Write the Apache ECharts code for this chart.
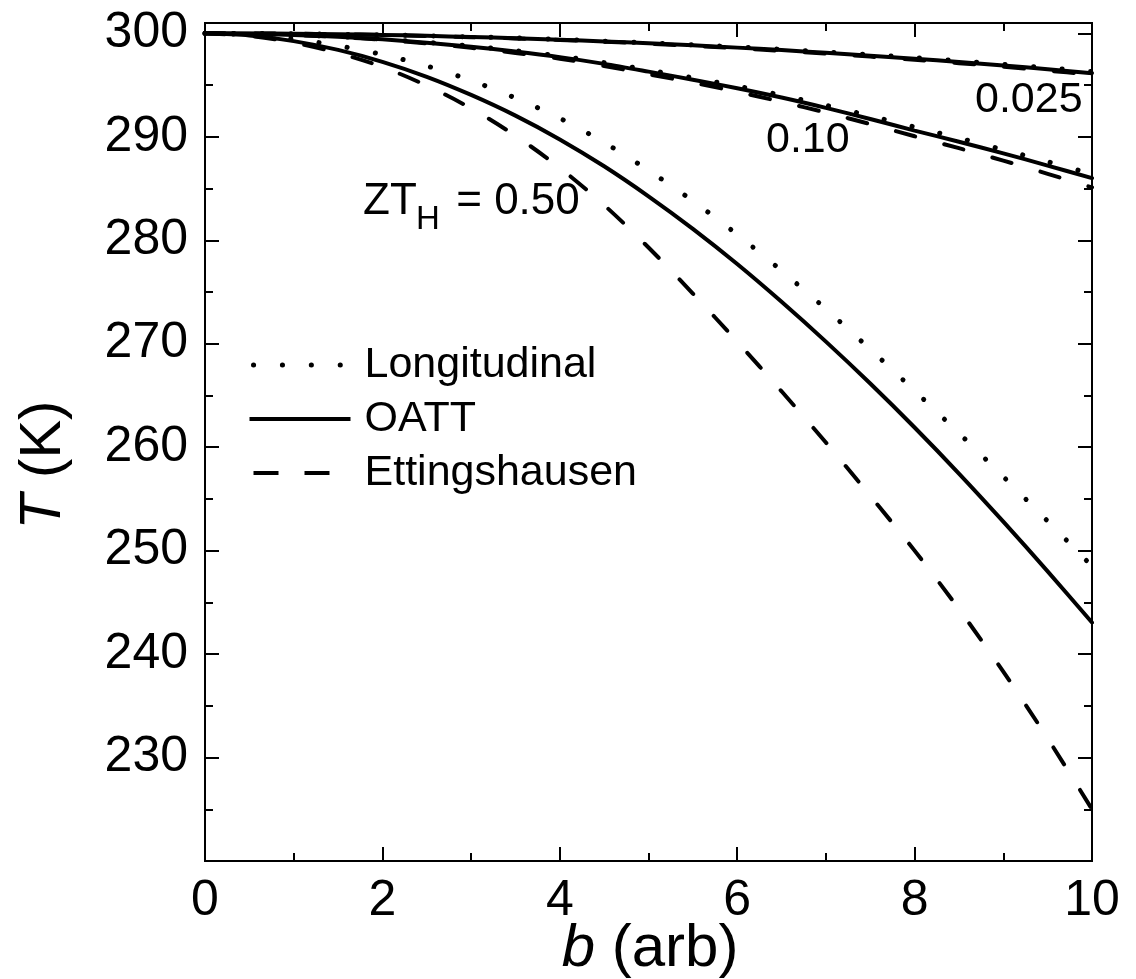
<!DOCTYPE html>
<html>
<head>
<meta charset="utf-8">
<script src="https://cdn.jsdelivr.net/npm/echarts@6/dist/echarts.min.js"></script>
<style>
  html, body { margin: 0; padding: 0; background: #fff; }
  #chart { width: 1136px; height: 979px; }
</style>
</head>
<body>
<div id="chart"></div>
<script>
// Parameter b (arb) at which the temperature profiles are sampled
const B = [0, 0.5, 1, 1.5, 2, 2.5, 3, 3.5, 4, 4.5, 5, 5.5, 6, 6.5, 7, 7.5, 8, 8.5, 9, 9.5, 10];

// ZT_H = 0.025
const LONG_025 = [300, 299.99, 299.96, 299.91, 299.86, 299.77, 299.66, 299.55, 299.41, 299.25, 299.08, 298.89, 298.68, 298.45, 298.20, 297.93, 297.65, 297.34, 297.01, 296.67, 296.30];
const OATT_025 = [300, 299.99, 299.96, 299.91, 299.85, 299.76, 299.65, 299.53, 299.39, 299.22, 299.04, 298.84, 298.62, 298.38, 298.12, 297.84, 297.55, 297.23, 296.89, 296.53, 296.15];
const ETT_025  = [300, 299.99, 299.96, 299.91, 299.84, 299.75, 299.63, 299.51, 299.36, 299.19, 299.00, 298.79, 298.56, 298.31, 298.04, 297.75, 297.45, 297.12, 296.77, 296.40, 296.00];

// ZT_H = 0.10
const LONG_010 = [300, 299.97, 299.86, 299.69, 299.45, 299.13, 298.77, 298.32, 297.80, 297.17, 296.45, 295.70, 294.90, 294.02, 293.05, 292.02, 290.95, 289.88, 288.75, 287.60, 286.40];
const OATT_010 = [300, 299.96, 299.85, 299.67, 299.42, 299.09, 298.70, 298.24, 297.70, 297.05, 296.30, 295.52, 294.70, 293.80, 292.80, 291.72, 290.60, 289.52, 288.40, 287.22, 286.00];
const ETT_010  = [300, 299.96, 299.84, 299.65, 299.38, 299.03, 298.60, 298.11, 297.55, 296.85, 296.05, 295.24, 294.35, 293.38, 292.35, 291.23, 290.05, 288.90, 287.70, 286.42, 285.10];

// ZT_H = 0.50
const LONG_050 = [300, 299.86, 299.45, 298.80, 297.95, 296.85, 295.45, 293.75, 291.80, 289.45, 286.75, 283.80, 280.55, 277.05, 273.35, 269.45, 265.45, 261.35, 257.15, 252.85, 248.50];
const OATT_050 = [300, 299.80, 299.25, 298.40, 297.25, 295.80, 294.05, 292.05, 289.75, 287.15, 284.25, 281.10, 277.70, 274.05, 270.20, 266.15, 261.90, 257.45, 252.80, 248.00, 243.05];
const ETT_050  = [300, 299.75, 299.10, 298.10, 296.75, 294.95, 292.75, 290.10, 287.00, 283.40, 279.30, 274.85, 270.20, 265.40, 260.45, 255.30, 250.00, 244.35, 238.30, 231.85, 225.00];

// Axis ranges and tick steps
const X_MIN = 0, X_MAX = 10, X_STEP = 2, X_MINOR = 1;
const Y_MIN = 220, Y_MAX = 301, Y_STEP = 10, Y_MINOR = 5;

const FONT = '"Liberation Sans", Arial, Helvetica, sans-serif';
const INK = '#000';

const STYLE = {
  Longitudinal:  { type: [0.1, 28.5], width: 5, cap: 'round' },
  OATT:          { type: 'solid', width: 4, cap: 'round' },
  Ettingshausen: { type: [20, 30], width: 4, cap: 'round' }
};

// Legend swatches (100 px long): four dots, a full line, two dashes
const LEGEND_STYLE = {
  Longitudinal:  { type: [0.1, 28.8], width: 5, cap: 'round', dashOffset: -4 },
  OATT:          { type: 'solid', width: 4, cap: 'butt' },
  Ettingshausen: { type: [25, 26], width: 4, cap: 'butt' }
};

const chart = echarts.init(document.getElementById('chart'), null, { renderer: 'canvas' });

function curve(name, values) {
  return {
    name: name,
    type: 'line',
    xAxisIndex: 0,
    yAxisIndex: 0,
    symbol: 'none',
    smooth: 0.3,
    silent: true,
    animation: false,
    color: INK,
    lineStyle: Object.assign({ color: INK }, STYLE[name]),
    data: B.map((b, i) => [b, values[i]])
  };
}

// Frame axes: ticks point into the plot on all four sides
function xAxisDef(pos, step, tickLen, labels) {
  return {
    type: 'value', position: pos, min: X_MIN, max: X_MAX, interval: step,
    axisLine: { show: true, onZero: false, lineStyle: { color: INK, width: 2 } },
    axisTick: { show: true, inside: true, length: tickLen, lineStyle: { color: INK, width: 2 } },
    splitLine: { show: false },
    axisLabel: labels ? { show: true, color: INK, fontSize: 50, fontFamily: FONT, margin: 15 } : { show: false }
  };
}
function yAxisDef(pos, step, tickLen, labels) {
  return {
    type: 'value', position: pos, min: Y_MIN, max: Y_MAX, interval: step,
    axisLine: { show: true, onZero: false, lineStyle: { color: INK, width: 2 } },
    axisTick: { show: true, inside: true, length: tickLen, lineStyle: { color: INK, width: 2 } },
    splitLine: { show: false },
    axisLabel: labels ? {
      show: true, color: INK, fontSize: 50, fontFamily: FONT, margin: 17,
      formatter: v => (v % Y_STEP === 0 && v > Y_MIN) ? String(v) : ''
    } : { show: false }
  };
}

function legendItem(name) {
  return {
    name: name,
    itemStyle: { opacity: 0, color: 'transparent', borderWidth: 0 },
    lineStyle: Object.assign({ color: INK }, LEGEND_STYLE[name])
  };
}

const option = {
  backgroundColor: '#fff',
  animation: false,
  grid: { left: 205, top: 23, width: 887, height: 838, containLabel: false },
  xAxis: [
    xAxisDef('bottom', X_STEP, 14, true),
    xAxisDef('bottom', X_MINOR, 8, false),
    xAxisDef('top', X_STEP, 14, false),
    xAxisDef('top', X_MINOR, 8, false)
  ],
  yAxis: [
    yAxisDef('left', Y_STEP, 14, true),
    yAxisDef('left', Y_MINOR, 8, false),
    yAxisDef('right', Y_STEP, 14, false),
    yAxisDef('right', Y_MINOR, 8, false)
  ],
  legend: {
    orient: 'vertical',
    left: 247, top: 338,
    padding: 0,
    itemGap: 0,
    itemWidth: 101,
    itemHeight: 20,
    selectedMode: false,
    itemStyle: { opacity: 0, borderWidth: 0 },
    textStyle: { color: INK, fontSize: 43, fontFamily: FONT, lineHeight: 54, padding: [0, 0, 0, 9] },
    data: [legendItem('Longitudinal'), legendItem('OATT'), legendItem('Ettingshausen')]
  },
  series: [
    curve('Longitudinal', LONG_025),
    curve('OATT', OATT_025),
    curve('Ettingshausen', ETT_025),
    curve('Longitudinal', LONG_010),
    curve('OATT', OATT_010),
    curve('Ettingshausen', ETT_010),
    curve('Longitudinal', LONG_050),
    curve('OATT', OATT_050),
    curve('Ettingshausen', ETT_050)
  ],
  graphic: [
    // axis titles
    {
      type: 'text', x: 44, y: 465, rotation: Math.PI / 2,
      style: {
        text: '{i|T} (K)', fill: INK, font: '58px ' + FONT,
        align: 'center', verticalAlign: 'middle',
        rich: { i: { fontStyle: 'italic', fontSize: 58, fontFamily: FONT, fill: INK } }
      }
    },
    {
      type: 'text', x: 650, y: 949,
      style: {
        text: '{i|b} (arb)', fill: INK, font: '60px ' + FONT,
        align: 'center', verticalAlign: 'middle',
        rich: { i: { fontStyle: 'italic', fontSize: 60, fontFamily: FONT, fill: INK } }
      }
    },
    // curve-family annotations
    { type: 'text', x: 975, y: 100, style: { text: '0.025', fill: INK, font: '43px ' + FONT, align: 'left', verticalAlign: 'middle' } },
    { type: 'text', x: 766, y: 140, style: { text: '0.10', fill: INK, font: '43px ' + FONT, align: 'left', verticalAlign: 'middle' } },
    { type: 'text', x: 363, y: 202, style: { text: 'ZT', fill: INK, font: '44px ' + FONT, align: 'left', verticalAlign: 'middle' } },
    { type: 'text', x: 416, y: 220, style: { text: 'H', fill: INK, font: '33px ' + FONT, align: 'left', verticalAlign: 'middle' } },
    { type: 'text', x: 444, y: 202, style: { text: ' = 0.50', fill: INK, font: '44px ' + FONT, align: 'left', verticalAlign: 'middle' } }
  ]
};

chart.setOption(option);
</script>
</body>
</html>
